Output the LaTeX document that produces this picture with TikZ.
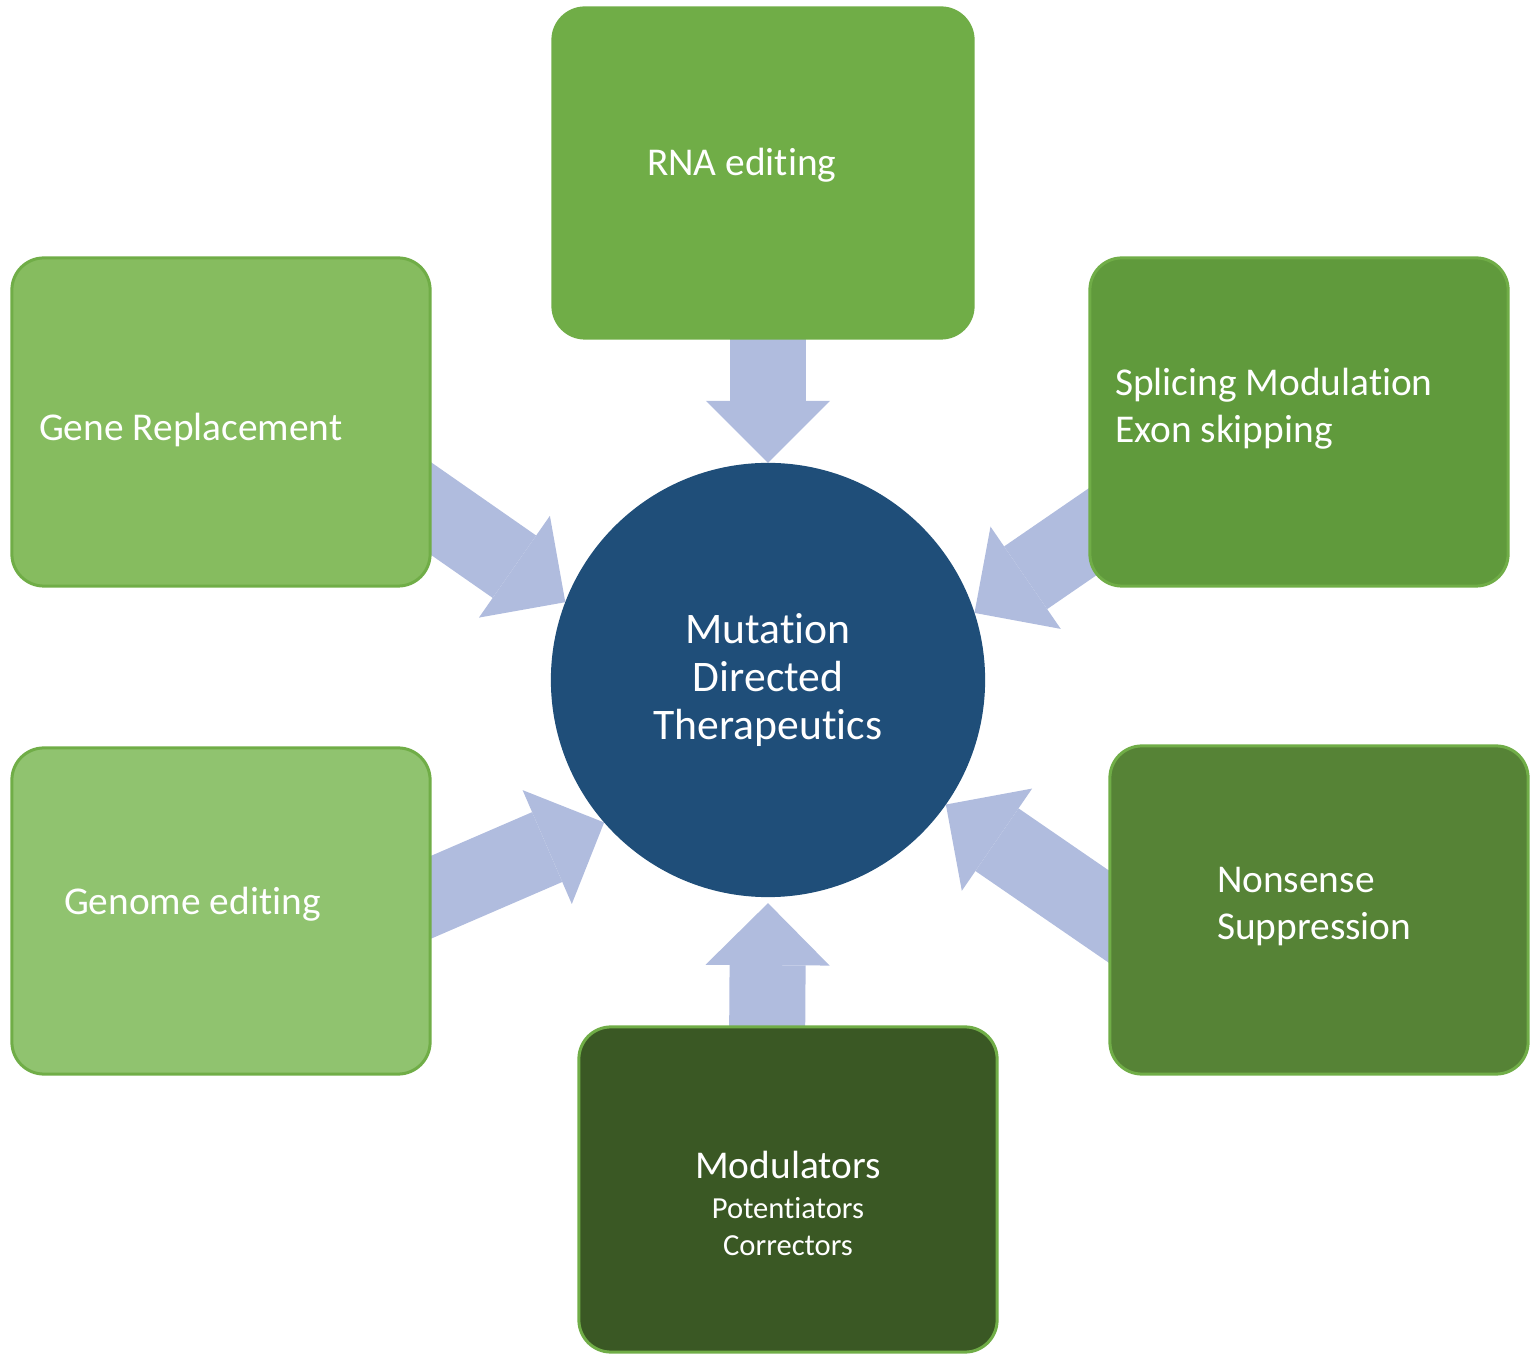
\documentclass[tikz,border=0pt]{standalone}
\usepackage{fontspec}
\setmainfont{Carlito}[RawFeature={-liga;-clig;-dlig;-calt}]
\usetikzlibrary{positioning,calc,arrows.meta,backgrounds}
\definecolor{hubblue}{HTML}{1F4E79}
\definecolor{pushblue}{HTML}{B0BCDE}
\definecolor{boxrim}{HTML}{70AD47}
\definecolor{rnagreen}{HTML}{70AD47}
\definecolor{genegreen}{HTML}{86BC5F}
\definecolor{genomegreen}{HTML}{90C36F}
\definecolor{splicegreen}{HTML}{609A3C}
\definecolor{nonsensegreen}{HTML}{568336}
\definecolor{modgreen}{HTML}{3A5824}
\newcommand{\subsize}{\fontsize{8.7}{10.5}\selectfont}
\tikzset{box/.style={draw=boxrim,line width=0.03cm,rounded corners=0.32cm,minimum width=4.18cm,minimum height=3.28cm,inner sep=0pt}}
\tikzset{hub/.style={circle,fill=hubblue,minimum size=4.34cm,inner sep=0pt,outer sep=0pt,text=white,align=center,font=\fontsize{12.4}{13.6}\selectfont}}
\tikzset{push/.style={draw=pushblue,line width=0.76cm,-{Triangle[length=0.62cm,width=1.24cm,line width=0pt]}}}
\tikzset{lbl/.style={text=white,inner sep=0pt,align=left,font=\fontsize{11.2}{13.4}\selectfont}}

\begin{document}
\begin{tikzpicture}[x=0.01cm,y=0.01cm]
  \useasboundingbox (0,0) rectangle (1536,1354);
  % centre
  \node[hub] (mdt) at (768,674) {Mutation\\Directed\\Therapeutics};
  % boxes
  \node[box,fill=rnagreen,minimum width=4.2cm,minimum height=3.3cm] (rna) at (763,1181) {};
  \node[box,fill=genegreen] (gene) at (221,932) {};
  \node[box,fill=splicegreen] (splice) at (1299,932) {};
  \node[box,fill=genomegreen,minimum height=3.26cm] (genome) at (221,443) {};
  \node[box,fill=nonsensegreen] (nonsense) at (1319,444) {};
  \node[box,fill=modgreen,minimum height=3.25cm] (mod) at (788,164.5) {};
  % labels
  \node[lbl,anchor=west] (rnaText) at ([shift={(95,8)}]rna.west) {RNA editing};
  \node[lbl,anchor=west] (geneText) at ([shift={(28,-8)}]gene.west) {Gene Replacement};
  \node[lbl,anchor=west] (spliceText) at ([shift={(26,13.5)}]splice.west) {Splicing Modulation\\Exon skipping};
  \node[lbl,anchor=west] (genomeText) at ([shift={(53,7)}]genome.west) {Genome editing};
  \node[lbl,anchor=west] (nonsenseText) at ([shift={(108,3.5)}]nonsense.west) {Nonsense\\Suppression};
  \node[lbl,align=center] (modText) at ([shift={(0,-14)}]mod.center) {Modulators\\[-2pt]\subsize Potentiators\\[-2.9pt]\subsize Correctors};
  % arrows
  \begin{scope}[on background layer]
    \draw[push] ([shift={(5,30)}]rna.south) -- (mdt.north);
    \draw[push] ([shift={(-21,-30)}]mod.north) -- ([shift={(0,-6)}]mdt.south);
    \draw[push] ([shift={(-33,-64)}]gene.east) -- (mdt.159);
    \draw[push] ([shift={(33,-90)}]splice.west) -- (mdt.18);
    \draw[push] ([shift={(-37,-2)}]genome.east) -- (mdt.221.4);
    \draw[push] ([shift={(33,-29)}]nonsense.west) -- (mdt.325.7);
  \end{scope}
\end{tikzpicture}
\end{document}
